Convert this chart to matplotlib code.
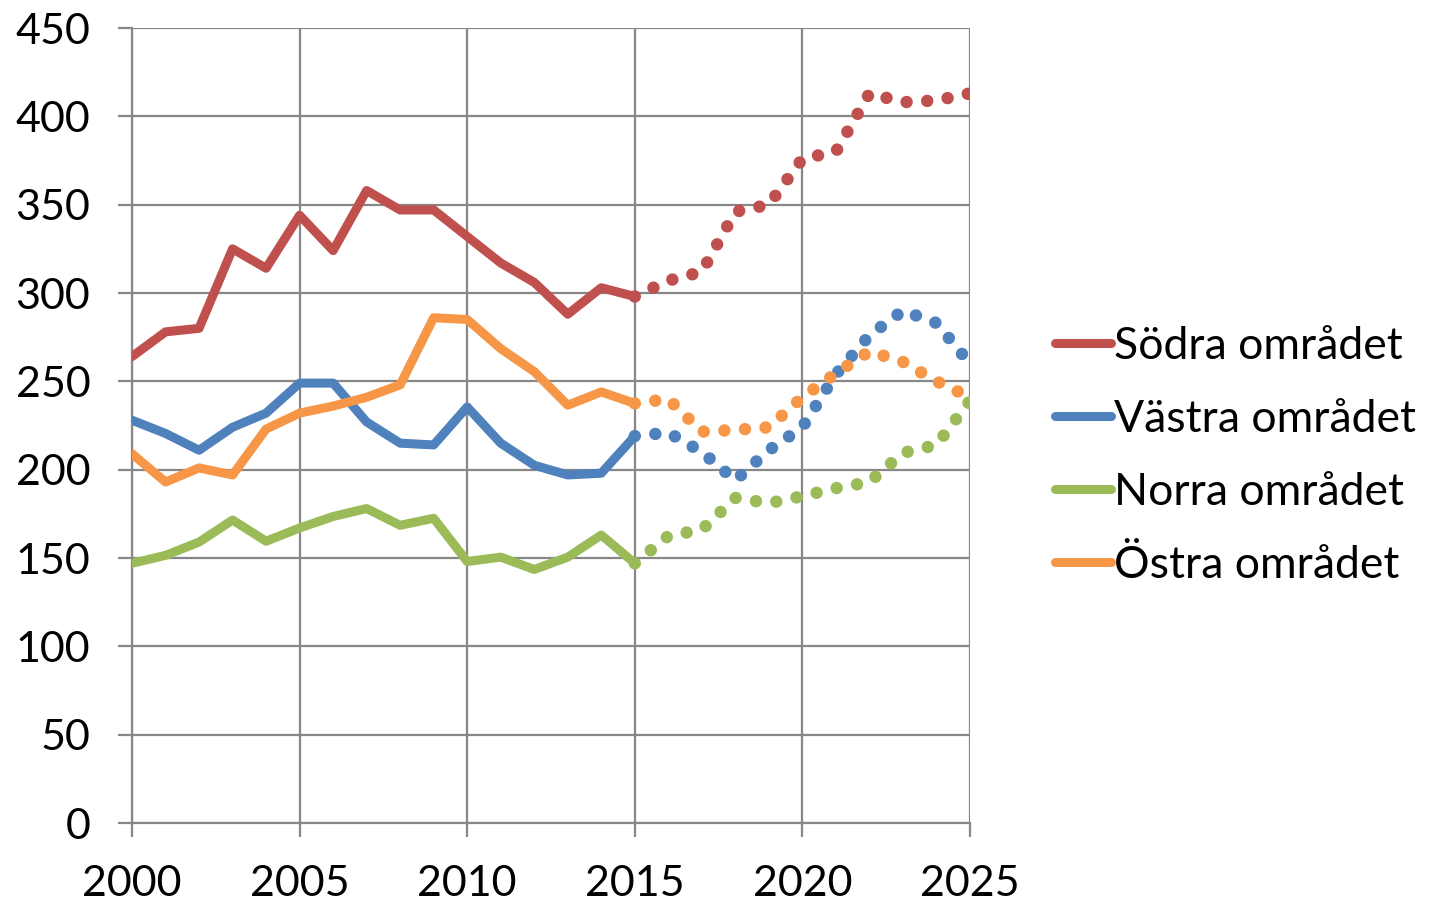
import numpy as np
import matplotlib
matplotlib.use('Agg')
from matplotlib import pyplot as plt
from matplotlib.lines import Line2D

# observed values 2000-2015
years = list(range(2000, 2016))
sodra = [264, 278, 280, 325, 314, 344, 324, 358, 347, 347, 332, 317, 306, 288, 303, 298]
vastra = [228, 220.5, 211, 224, 232, 249, 249, 227, 215, 214, 235.5, 215, 202.5, 197, 198, 219]
norra = [147, 151.5, 159, 171.5, 159.5, 167, 173.5, 178, 168.5, 172.5, 148, 150.5, 143.5, 150.5, 163, 147]
ostra = [209, 193, 201, 197, 223, 232, 236, 241, 248, 286, 285, 268.5, 255.5, 236.5, 244, 237.5]

# forecast 2015-2025
prog_years = list(range(2015, 2026))
sodra_prog = [298, 307, 312, 346, 350, 376, 380, 413, 408, 409, 413]
vastra_prog = [219, 221, 210, 194, 211, 224, 254, 276, 290, 283, 260]
norra_prog = [147, 162.5, 166, 184, 181, 185, 189.5, 193, 209.5, 214, 239]
ostra_prog = [237.5, 240, 221.5, 222.5, 224, 241, 254.5, 267, 261, 250, 241]

labels = ['Södra området', 'Västra området', 'Norra området', 'Östra området']
colors = ['#C0504D', '#4F81BD', '#9BBB59', '#F79646']

plt.rcParams['font.family'] = ['Lato', 'DejaVu Sans']

fig = plt.figure(figsize=(14.29, 9.05), dpi=100)
ax = fig.add_axes([132 / 1429, 1 - 823 / 905, (970 - 132) / 1429, (823 - 28) / 905])

grid_color = '#878787'
series = [(sodra, sodra_prog), (vastra, vastra_prog), (norra, norra_prog), (ostra, ostra_prog)]
for (obs, prog), col in zip(series, colors):
    ax.plot(years, obs, color=col, lw=6.5, solid_capstyle='round', solid_joinstyle='round', zorder=3)
    ax.plot(prog_years, prog, color=col, lw=9, linestyle=(0, (0.001, 1.65)),
            dash_capstyle='round', zorder=3)

ax.set_xlim(2000, 2025)
ax.set_ylim(0, 450)
ax.set_xticks(np.arange(2000, 2026, 5))
ax.set_yticks(np.arange(0, 451, 50))
ax.grid(True, color=grid_color, lw=1.6)
for s in ['top', 'right']:
    ax.spines[s].set_visible(False)
for s in ['left', 'bottom']:
    ax.spines[s].set_color(grid_color)
    ax.spines[s].set_linewidth(1.6)
ax.tick_params(axis='both', length=10, width=1.6, color=grid_color, labelsize=31)
ax.tick_params(axis='x', pad=20)
ax.tick_params(axis='y', pad=20)

handles = [Line2D([0], [0], color=c, lw=6.5, solid_capstyle='round') for c in colors]
fig.legend(handles, labels, loc='center left', bbox_to_anchor=(1055 / 1429, 1 - 456 / 905),
           frameon=False, fontsize=32, handlelength=1.25, handletextpad=0.08,
           labelspacing=0.72, borderaxespad=0, borderpad=0)

fig.savefig('out.png', dpi=100)
